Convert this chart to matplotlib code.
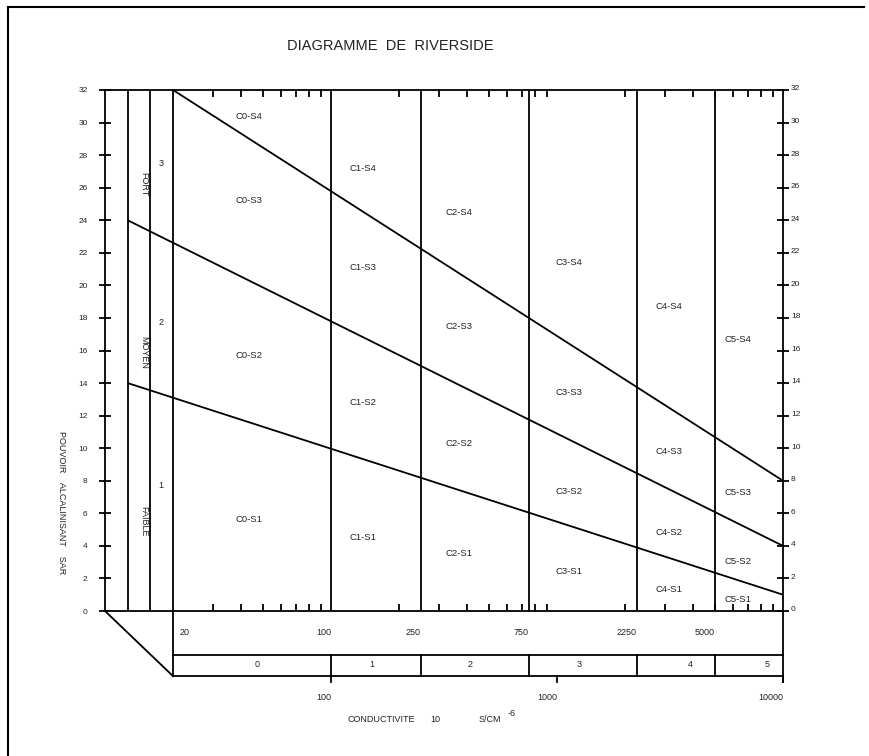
import matplotlib.pyplot as plt
import matplotlib.transforms as mtransforms
from matplotlib.lines import Line2D
from matplotlib.ticker import NullFormatter

plt.rcParams['font.family'] = ['Liberation Sans', 'DejaVu Sans']

# conductivity class limits (micro S/cm)
class_limits = [20, 100, 250, 750, 2250, 5000, 10000]
limit_labels = ['20', '100', '250', '750', '2250', '5000']
class_names = ['0', '1', '2', '3', '4', '5']
class_label_x = [47, 152, 412, 1259, 3873, 8490]
decade_ticks = [100, 1000, 10000]
decade_labels = ['100', '1000', '10000']
minor_x = [30, 40, 50, 60, 70, 80, 90,
           200, 300, 400, 500, 600, 700, 800, 900,
           2000, 3000, 4000, 5000, 6000, 7000, 8000, 9000]

# sodium hazard boundaries: (conductivity ends, SAR ends)
s_bounds_x = [[20, 10000], [12.6, 10000], [12.6, 10000]]
s_bounds_y = [[32, 8], [24, 4], [14, 1]]

# alkalinity hazard columns on the left
hazard_cols = [12.6, 15.8]
hazard_names = ['FAIBLE', 'MOYEN', 'FORT']
hazard_name_y = [5.5, 15.9, 26.2]
hazard_nums = ['1', '2', '3']
hazard_num_y = [7.7, 17.75, 27.5]

# zone names and their positions (conductivity, SAR)
zone_names = ['C0-S4', 'C0-S3', 'C0-S2', 'C0-S1',
              'C1-S4', 'C1-S3', 'C1-S2', 'C1-S1',
              'C2-S4', 'C2-S3', 'C2-S2', 'C2-S1',
              'C3-S4', 'C3-S3', 'C3-S2', 'C3-S1',
              'C4-S4', 'C4-S3', 'C4-S2', 'C4-S1',
              'C5-S4', 'C5-S3', 'C5-S2', 'C5-S1']
zone_x = [43.4] * 4 + [138] * 4 + [368] * 4 + [1130] * 4 + [3133] * 4 + [6325] * 4
zone_y = [30.4, 25.2, 15.7, 5.65,
          27.2, 21.1, 12.8, 4.5,
          24.5, 17.5, 10.3, 3.56,
          21.4, 13.45, 7.37, 2.4,
          18.7, 9.77, 4.85, 1.35,
          16.7, 7.25, 3.07, 0.68]

W, H = 869, 756
lw = 1.3
txt = '#222222'

fig = plt.figure(figsize=(W / 100, H / 100), dpi=100)
ax = fig.add_axes([105 / W, (H - 611) / H, (783 - 105) / W, (611 - 90) / H])
ax.set_xscale('log')
ax.set_xlim(10, 10000)
ax.set_ylim(0, 32)
for sp in ax.spines.values():
    sp.set_linewidth(lw)

# y axis on both sides
ax.set_yticks(range(0, 33, 2))
ax.tick_params(axis='y', which='major', direction='inout', length=9, width=lw,
               labelsize=6, labelcolor=txt, left=True, right=True,
               labelleft=True, labelright=True, pad=8)

# right labels sit close to the axis, a touch above the tick
shift = mtransforms.ScaledTranslation(-6.8 / 72, 1.5 / 72, fig.dpi_scale_trans)
for t in ax.yaxis.get_major_ticks():
    t.label2.set_transform(t.label2.get_transform() + shift)

# log minor ticks on top and bottom edges
ax.set_xticks([])
ax.set_xticks(minor_x, minor=True)
ax.xaxis.set_minor_formatter(NullFormatter())
ax.tick_params(axis='x', which='minor', direction='in', length=5, width=lw,
               top=True, bottom=True)

# column and class dividers
for x in hazard_cols + class_limits[:-1]:
    ax.axvline(x, color='k', lw=lw)

# SAR boundaries
for xs, ys in zip(s_bounds_x, s_bounds_y):
    ax.plot(xs, ys, color='k', lw=lw, solid_capstyle='butt')

for name, x, y in zip(zone_names, zone_x, zone_y):
    ax.text(x, y, name, ha='center', va='center', fontsize=6.8, color=txt)

for name, y in zip(hazard_names, hazard_name_y):
    ax.text(14.9, y, name, ha='center', va='center', rotation=270,
            fontsize=6.5, color=txt)
for num, y in zip(hazard_nums, hazard_num_y):
    ax.text(17.7, y, num, ha='center', va='center', fontsize=6.5, color=txt)

# conductivity class table below the plot
b1, b2, tk = -2.7, -4.0, -4.36
kw = dict(color='k', lw=lw, clip_on=False, solid_capstyle='projecting')
ax.plot([class_limits[0], class_limits[-1]], [b1, b1], **kw)
ax.plot([class_limits[0], class_limits[-1]], [b2, b2], **kw)
ax.plot([class_limits[0], class_limits[0]], [0, b2], **kw)
ax.plot([class_limits[-1], class_limits[-1]], [0, tk], **kw)
for x in class_limits[1:-1]:
    ax.plot([x, x], [b1, b2], **kw)
for x in decade_ticks:
    ax.plot([x, x], [b2, tk], **kw)
ax.plot([10, class_limits[0]], [0, b2], **kw)

for lab, x in zip(limit_labels, class_limits):
    if x == class_limits[0]:
        ax.annotate(lab, (x, -1.29), xytext=(5, 0), textcoords='offset points',
                    ha='left', va='center', fontsize=6.5, color=txt,
                    annotation_clip=False)
    else:
        ax.text(x, -1.29, lab, ha='right', va='center', fontsize=6.5, color=txt)
for name, x in zip(class_names, class_label_x):
    ax.text(x, -3.3, name, ha='center', va='center', fontsize=6.5, color=txt)
for lab, x in zip(decade_labels, decade_ticks):
    ax.text(x, -5.3, lab, ha='right', va='center', fontsize=6.5, color=txt)

# titles and axis captions
fig.text(390 / W, 1 - 46 / H, 'DIAGRAMME  DE  RIVERSIDE', ha='center', va='center',
         fontsize=10.5, color=txt)
fig.text(348 / W, 1 - 719 / H, 'CONDUCTIVITE', ha='left', va='center',
         fontsize=6.5, color=txt)
fig.text(430 / W, 1 - 719 / H, '10', ha='left', va='center', fontsize=6.5, color=txt)
fig.text(479 / W, 1 - 719 / H, 'S/CM', ha='left', va='center', fontsize=6.5, color=txt)
fig.text(508 / W, 1 - 713 / H, '-6', ha='left', va='center', fontsize=6.5, color=txt)
fig.text(61 / W, 1 - 503 / H, 'POUVOIR    ALCALINISANT    SAR', ha='center',
         va='center', rotation=270, fontsize=6.5, color=txt)

# page frame
fig.add_artist(Line2D([8 / W, 8 / W], [0, 1 - 7 / H], color='k', lw=1.5))
fig.add_artist(Line2D([8 / W, 864 / W], [1 - 7 / H, 1 - 7 / H], color='k', lw=1.5))

fig.savefig('out.png', dpi=100, facecolor='white')
